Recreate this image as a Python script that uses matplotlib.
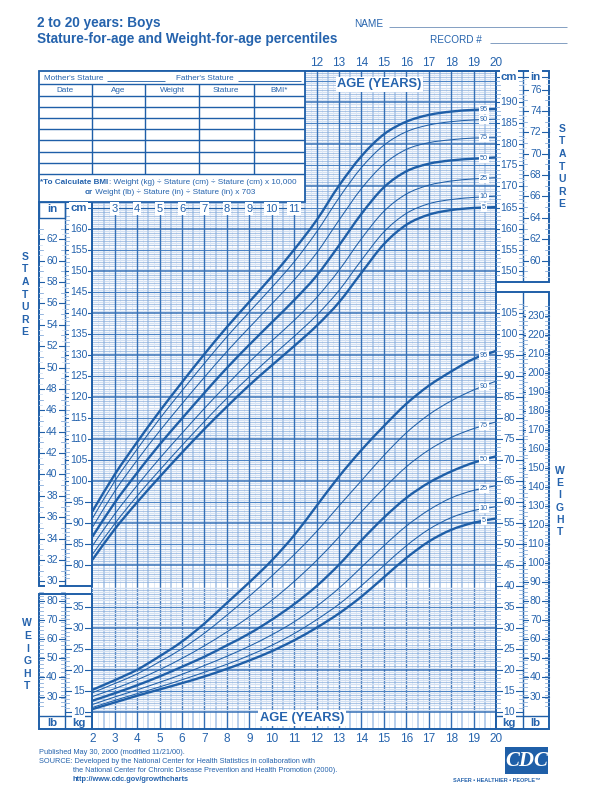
import numpy as np
import matplotlib
matplotlib.use("Agg")
import matplotlib.pyplot as plt
from matplotlib.patches import Rectangle, PathPatch
from matplotlib.path import Path
from matplotlib.transforms import blended_transform_factory as btf

plt.rcParams['font.family'] = ['Liberation Sans', 'DejaVu Sans']

# ---------------- data ----------------
ages = [2, 3, 4, 5, 6, 7, 8, 9, 10, 11, 12, 13, 14, 15, 16, 17, 18, 19, 20]
percentile_labels = ['5', '10', '25', '50', '75', '90', '95']

stature_p5  = [81.3, 88.6, 95.0, 101.0, 106.8, 112.4, 117.7, 122.8, 127.5, 132.1, 136.9, 142.5, 149.5, 156.3, 160.9, 163.3, 164.4, 164.9, 165.1]
stature_p10 = [82.6, 89.9, 96.5, 102.6, 108.5, 114.2, 119.7, 124.8, 129.7, 134.4, 139.4, 145.3, 152.5, 159.2, 163.6, 165.9, 166.9, 167.4, 167.7]
stature_p25 = [84.6, 92.2, 99.0, 105.4, 111.4, 117.3, 122.9, 128.3, 133.3, 138.2, 143.6, 150.1, 157.6, 164.1, 168.2, 170.3, 171.3, 171.8, 172.1]
stature_p50 = [86.8, 94.9, 102.0, 108.7, 114.9, 121.0, 126.9, 132.4, 137.7, 143.0, 148.8, 156.0, 163.5, 169.8, 173.6, 175.4, 176.2, 176.6, 176.9]
stature_p75 = [89.0, 97.6, 105.0, 111.9, 118.4, 124.7, 130.8, 136.5, 142.1, 147.8, 154.2, 162.0, 169.5, 175.3, 178.8, 180.4, 181.1, 181.5, 181.6]
stature_p90 = [91.1, 100.0, 107.6, 114.8, 121.5, 128.0, 134.3, 140.2, 146.0, 152.1, 159.2, 167.3, 174.5, 179.8, 183.0, 184.6, 185.4, 185.8, 186.0]
stature_p95 = [92.8, 101.6, 109.3, 116.6, 123.5, 130.2, 136.6, 142.6, 148.6, 155.0, 162.0, 170.2, 177.2, 182.4, 185.4, 187.0, 187.8, 188.2, 188.4]

weight_p5  = [10.6, 12.2, 13.8, 15.3, 16.8, 18.4, 20.2, 22.2, 24.4, 27.0, 30.0, 33.4, 37.4, 42.0, 46.6, 50.5, 53.3, 55.0, 56.0]
weight_p10 = [11.0, 12.7, 14.3, 15.9, 17.6, 19.4, 21.3, 23.4, 25.8, 28.6, 31.9, 35.6, 40.0, 44.8, 49.5, 53.4, 56.2, 57.9, 58.8]
weight_p25 = [11.7, 13.5, 15.2, 17.0, 18.9, 21.0, 23.2, 25.6, 28.3, 31.4, 35.1, 39.4, 44.4, 49.5, 54.2, 58.0, 60.9, 62.7, 63.8]
weight_p50 = [12.6, 14.4, 16.3, 18.4, 20.7, 23.1, 25.8, 28.6, 31.9, 35.6, 39.9, 45.0, 50.8, 56.2, 60.9, 64.5, 67.2, 69.3, 70.8]
weight_p75 = [13.6, 15.5, 17.6, 20.0, 22.7, 25.7, 29.0, 32.6, 36.5, 41.0, 46.0, 51.6, 57.6, 63.2, 68.3, 72.3, 75.3, 77.4, 79.0]
weight_p90 = [14.5, 16.7, 19.0, 21.9, 25.0, 28.7, 33.0, 37.5, 42.3, 47.4, 52.9, 59.0, 65.0, 71.0, 76.4, 80.7, 84.0, 86.6, 88.7]
weight_p95 = [15.2, 17.5, 20.0, 23.2, 26.7, 31.0, 35.9, 40.8, 46.0, 52.0, 59.0, 66.0, 72.3, 78.0, 83.3, 87.6, 91.0, 94.0, 95.9]

stature_series = [stature_p5, stature_p10, stature_p25, stature_p50, stature_p75, stature_p90, stature_p95]
weight_series = [weight_p5, weight_p10, weight_p25, weight_p50, weight_p75, weight_p90, weight_p95]

left_age_ticks = [3, 4, 5, 6, 7, 8, 9, 10, 11]
top_age_ticks = [12, 13, 14, 15, 16, 17, 18, 19, 20]
bottom_age_ticks = list(range(2, 21))
cm_ticks_left = [80, 85, 90, 95, 100, 105, 110, 115, 120, 125, 130, 135, 140, 145, 150, 155, 160]
in_ticks_left = [30, 32, 34, 36, 38, 40, 42, 44, 46, 48, 50, 52, 54, 56, 58, 60, 62]
cm_ticks_right = [150, 155, 160, 165, 170, 175, 180, 185, 190]
in_ticks_right = [60, 62, 64, 66, 68, 70, 72, 74, 76]
kg_ticks_left = [10, 15, 20, 25, 30, 35]
lb_ticks_left = [30, 40, 50, 60, 70, 80]
kg_ticks_right = [10, 15, 20, 25, 30, 35, 40, 45, 50, 55, 60, 65, 70, 75, 80, 85, 90, 95, 100, 105]
lb_ticks_right = [30, 40, 50, 60, 70, 80, 90, 100, 110, 120, 130, 140, 150, 160, 170, 180, 190, 200, 210, 220, 230]

# ---------------- styling / layout ----------------
BLUE = '#1f5fa8'
TXT = '#2563ad'
G_DARK = '#3570b6'
G_MID = '#8aaedb'
G_LIGHT = '#d2e0f2'
W, H = 600, 787
GX0, GX1, GY0, GY1 = 92.3, 496.0, 71.0, 729.0
CM_REF_Y, CM_SCALE = 102.3, 4.21      # y(px) of 190 cm, px per cm
KG_REF_Y, KG_SCALE = 711.7, 4.20      # y(px) of 10 kg, px per kg

fig = plt.figure(figsize=(6.0, 7.87), dpi=100)
fig.patch.set_facecolor('white')


def frac(x0, y0, x1, y1):
    return [x0 / W, 1 - y1 / H, (x1 - x0) / W, (y1 - y0) / H]


ax = fig.add_axes(frac(GX0, GY0, GX1, GY1))
ax.set_xlim(2, 20)
ax.set_ylim(190 - (GY1 - CM_REF_Y) / CM_SCALE, 190 + (CM_REF_Y - GY0) / CM_SCALE)
ax.set_xticks([]); ax.set_yticks([])
for s in ax.spines.values():
    s.set_color(BLUE); s.set_linewidth(1.4)
ax.set_zorder(1)

axw = ax.twinx()
axw.set_ylim(10 - (GY1 - KG_REF_Y) / KG_SCALE, 10 + (KG_REF_Y - GY0) / KG_SCALE)
axw.set_yticks([])
axw.patch.set_visible(False)
for s in axw.spines.values():
    s.set_visible(False)
axw.set_zorder(2)

fg = fig.add_axes([0, 0, 1, 1])
fg.set_xlim(0, W); fg.set_ylim(H, 0)
fg.axis('off')
fg.patch.set_visible(False)
fg.set_zorder(3)

trS = btf(fg.transData, ax.transData)     # x pixels, y cm
trW = btf(fg.transData, axw.transData)    # x pixels, y kg
trA = btf(ax.transData, fg.transData)     # x age, y pixels

# ---------------- grid ----------------
for c in range(76, 198):
    ax.axhline(c + 0.5, color=G_LIGHT, lw=1.0, zorder=0.5)
for k in range(10, 40):
    axw.axhline(k + 0.5, color=G_LIGHT, lw=1.0, zorder=0.5)
for a in np.arange(2.25, 20, 0.5):
    ax.axvline(a, color='#dbe6f5', lw=0.6, zorder=0.6)
for a in np.arange(2.5, 20, 1.0):
    ax.axvline(a, color='#b3cbea', lw=1.3, zorder=0.7)
for c in range(76, 198):
    if c % 10 == 0:
        ax.axhline(c, color=G_DARK, lw=1.1, zorder=0.9)
    elif c % 5 == 0:
        ax.axhline(c, color='#4d84c4', lw=0.8, zorder=0.9)
    else:
        ax.axhline(c, color=G_MID, lw=0.5, zorder=0.8)
for k in range(10, 40):
    if k % 10 == 0:
        axw.axhline(k, color=G_DARK, lw=1.1, zorder=0.9)
    elif k % 5 == 0:
        axw.axhline(k, color='#4d84c4', lw=0.8, zorder=0.9)
    else:
        axw.axhline(k, color=G_MID, lw=0.5, zorder=0.8)
for a in range(3, 20):
    ax.axvline(a, color=G_DARK, lw=1.0, zorder=1.0)


# ---------------- curves ----------------
def smooth_path(xs, ys):
    xs = np.asarray(xs, float); ys = np.asarray(ys, float)
    n = len(xs)
    m = np.empty(n)
    m[1:-1] = (ys[2:] - ys[:-2]) / (xs[2:] - xs[:-2])
    m[0] = (ys[1] - ys[0]) / (xs[1] - xs[0])
    m[-1] = (ys[-1] - ys[-2]) / (xs[-1] - xs[-2])
    verts = [(xs[0], ys[0])]
    codes = [Path.MOVETO]
    for i in range(n - 1):
        h = xs[i + 1] - xs[i]
        verts += [(xs[i] + h / 3, ys[i] + m[i] * h / 3),
                  (xs[i + 1] - h / 3, ys[i + 1] - m[i + 1] * h / 3),
                  (xs[i + 1], ys[i + 1])]
        codes += [Path.CURVE4] * 3
    return Path(verts, codes)


for target, series in ((ax, stature_series), (axw, weight_series)):
    for lab, vals in zip(percentile_labels, series):
        thick = lab in ('5', '50', '95')
        target.add_patch(PathPatch(smooth_path(ages, vals), fill=False,
                                   edgecolor=BLUE, lw=1.7 if thick else 0.75,
                                   zorder=5, capstyle='butt'))
        yv = np.interp(19.45, ages, vals)
        target.text(19.45, yv, lab, fontsize=5.2, color=TXT, ha='center', va='center',
                    zorder=6, bbox=dict(boxstyle='square,pad=0.12', fc='white', ec='none'))

# ---------------- helpers for boxes ----------------
def line(x0, y0, x1, y1, lw=1.0, color=BLUE, z=4):
    fg.plot([x0, x1], [y0, y1], color=color, lw=lw, zorder=z, solid_capstyle='butt')


def rect(x0, y0, x1, y1, lw=1.4, fc='none', z=4):
    fg.add_patch(Rectangle((x0, y0), x1 - x0, y1 - y0, fc=fc, ec=BLUE, lw=lw, zorder=z))


def col_labels(tr, x0, x1, vals, conv, fs=7.5):
    xc = (x0 + x1) / 2
    for v in vals:
        y = conv(v)
        fg.plot([x0, x1], [y, y], color=BLUE, lw=0.8, transform=tr, zorder=4)
        fg.text(xc, y, str(v), transform=tr, ha='center', va='center', fontsize=fs,
                color=TXT, zorder=6,
                bbox=dict(boxstyle='square,pad=0.08', fc='white', ec='none'))


def col_minor(tr, x0, x1, vals, conv, ln=4, left=True, right=True, color=G_MID):
    for v in vals:
        y = conv(v)
        if left:
            fg.plot([x0, x0 + ln], [y, y], color=color, lw=0.6, transform=tr, zorder=4)
        if right:
            fg.plot([x1 - ln, x1], [y, y], color=color, lw=0.6, transform=tr, zorder=4)


ident = lambda v: v
inch = lambda v: v * 2.54
pound = lambda v: v / 2.20462

# --- left stature block
rect(39, 202, 92.3, 586, fc='white', z=3)
line(65, 202, 65, 586, lw=1.0)
rect(39, 202, 65, 218, lw=1.0, z=4.5)
col_minor(trS, 39, 65, [v / 2 for v in range(60, 126)], inch, ln=3, color=G_LIGHT)
col_minor(trS, 39, 65, list(range(30, 64)), inch, ln=4)
col_minor(trS, 65, 92.3, list(range(77, 164)), ident, ln=4, right=False)
col_labels(trS, 39, 65, in_ticks_left, inch)
col_labels(trS, 65, 92.3, cm_ticks_left, ident)

# --- left weight block
rect(39, 594, 92.3, 729, fc='white', z=3)
line(65, 594, 65, 729, lw=1.0)
line(39, 716, 92.3, 716, lw=1.0)
col_minor(trW, 39, 65, list(range(25, 86, 2)), pound, ln=4)
col_minor(trW, 65, 92.3, list(range(10, 38)), ident, ln=4, right=False)
col_labels(trW, 39, 65, lb_ticks_left, pound)
col_labels(trW, 65, 92.3, kg_ticks_left, ident)

# --- right stature block
rect(496, 71, 549, 282, fc='white', z=3)
line(522.5, 71, 522.5, 282, lw=1.0)
col_minor(trS, 496, 522.5, list(range(149, 197)), ident, ln=4)
col_minor(trS, 522.5, 549, [v / 2 for v in range(117, 155)], inch, ln=3, color=G_LIGHT)
col_minor(trS, 522.5, 549, list(range(59, 77)), inch, ln=4)
col_labels(trS, 496, 522.5, cm_ticks_right, ident)
col_labels(trS, 522.5, 549, in_ticks_right, inch)

# --- right weight block
rect(496, 292, 549, 729, fc='white', z=3)
line(522.5, 292, 522.5, 729, lw=1.0)
line(496, 716, 549, 716, lw=1.0)
col_minor(trW, 496, 522.5, list(range(10, 108)), ident, ln=4)
col_minor(trW, 522.5, 549, list(range(25, 236, 2)), pound, ln=4)
col_labels(trW, 496, 522.5, kg_ticks_right, ident)
col_labels(trW, 522.5, 549, lb_ticks_right, pound)

# unit headers
def unit(x, y, s, fs=8.2, box=True):
    fg.text(x, y, s, ha='center', va='center', fontsize=fs, fontweight='bold', color=TXT,
            zorder=7, bbox=dict(boxstyle='square,pad=0.1', fc='white', ec='none') if box else None)

line(496, 77, 549, 77, lw=0.8)
unit(509, 76.5, 'cm'); unit(535.7, 76.5, 'in')
unit(52, 209.5, 'in', box=False)
unit(78.5, 208, 'cm')
unit(52, 722.5, 'lb', box=False); unit(78.5, 722.5, 'kg', box=False)
unit(509, 722.5, 'kg', box=False); unit(535.7, 722.5, 'lb', box=False)

# age label rows
line(65, 207.5, 305, 207.5, lw=0.8)
for a in left_age_ticks:
    fg.text(a, 208.5, str(a), transform=trA, ha='center', va='center', fontsize=8,
            color=TXT, zorder=7, bbox=dict(boxstyle='square,pad=0.1', fc='white', ec='none'))
for a in top_age_ticks:
    fg.text(a, 63.3, str(a), transform=trA, ha='center', va='center', fontsize=8.5, color=TXT)
for a in bottom_age_ticks:
    fg.text(a, 738.5, str(a), transform=trA, ha='center', va='center', fontsize=8.5, color=TXT)

fg.text(379.5, 84.5, 'AGE (YEARS)', ha='center', va='center', fontsize=9.3, fontweight='bold',
        color=TXT, zorder=7, bbox=dict(boxstyle='square,pad=0.12', fc='white', ec='none'))
fg.text(302, 718, 'AGE (YEARS)', ha='center', va='center', fontsize=9.3, fontweight='bold',
        color=TXT, zorder=7, bbox=dict(boxstyle='square,pad=0.12', fc='white', ec='none'))

# vertical words
def vword(x, y0, word, step=12.6):
    for i, ch in enumerate(word):
        fg.text(x, y0 + i * step, ch, ha='center', va='center', fontsize=7.5,
                fontweight='bold', color=TXT)

vword(25, 256.7, 'STATURE')
vword(562, 128.7, 'STATURE')
vword(27.3, 623.3, 'WEIGHT')
vword(560, 470.7, 'WEIGHT', step=12.3)

# ---------------- record table ----------------
rect(38.5, 71, 305, 202, fc='white', lw=1.3, z=3.5)
line(38.5, 84.3, 305, 84.3, lw=1.0, z=4.6)
for yy in (96, 107.3, 118.3, 129.3, 140.3, 151.7, 162.7, 173.7):
    line(38.5, yy, 305, yy, lw=1.0, z=4.6)
for xx in (91.5, 145.4, 198.5, 253.8):
    line(xx, 84.3, xx, 173.7, lw=1.0, z=4.6)
tfs = 5.9
fg.text(43.5, 78, "Mother's Stature", fontsize=tfs, color=TXT, va='center', zorder=6)
line(107, 80.8, 165, 80.8, lw=0.6, z=6)
fg.text(176, 78, "Father's Stature", fontsize=tfs, color=TXT, va='center', zorder=6)
line(238, 80.8, 301, 80.8, lw=0.6, z=6)
for xc, s in ((65, 'Date'), (118.5, 'Age'), (172, 'Weight'), (226, 'Stature'), (279.5, 'BMI*')):
    fg.text(xc, 90.3, s, fontsize=tfs, color=TXT, ha='center', va='center', zorder=6)

t1 = fg.text(40.5, 182.7, '*To Calculate BMI', fontsize=tfs, fontweight='bold', color=TXT,
             va='center', zorder=6)
fg.annotate(': Weight (kg) \u00f7 Stature (cm) \u00f7 Stature (cm) x 10,000', xy=(1, 0),
            xycoords=t1, va='bottom', ha='left', fontsize=tfs, color=TXT, zorder=6)
t2 = fg.text(85, 192.7, 'or', fontsize=tfs, fontweight='bold', color=TXT, va='center', zorder=6)
fg.annotate(' Weight (lb) \u00f7 Stature (in) \u00f7 Stature (in) x 703', xy=(1, 0),
            xycoords=t2, va='bottom', ha='left', fontsize=tfs, color=TXT, zorder=6)

# ---------------- titles ----------------
fg.text(37, 27, '2 to 20 years: Boys', fontsize=9.8, fontweight='bold', color=TXT, va='baseline')
fg.text(37, 42.5, 'Stature-for-age and Weight-for-age percentiles', fontsize=9.8,
        fontweight='bold', color=TXT, va='baseline')
fg.text(354, 27, 'NAME', fontsize=7.2, color=TXT, va='baseline')
line(389, 26.7, 567, 26.7, lw=0.6, color='#6f8fb8')
fg.text(430, 43.3, 'RECORD #', fontsize=7.2, color=TXT, va='baseline')
line(490, 43.3, 567, 43.3, lw=0.6, color='#6f8fb8')

# ---------------- footer ----------------
ffs = 5.3
fg.text(39, 752.7, 'Published May 30, 2000 (modified 11/21/00).', fontsize=ffs, color=TXT, va='center')
fg.text(39, 761.7, 'SOURCE: Developed by the National Center for Health Statistics in collaboration with',
        fontsize=ffs, color=TXT, va='center')
fg.text(72.7, 770.7, 'the National Center for Chronic Disease Prevention and Health Promotion (2000).',
        fontsize=ffs, color=TXT, va='center')
fg.text(72.7, 779.5, 'http://www.cdc.gov/growthcharts', fontsize=ffs, fontweight='bold',
        color=TXT, va='center')

fg.add_patch(Rectangle((505, 747), 43, 26.5, fc=BLUE, ec='none', zorder=4))
fg.text(526.5, 760.5, 'CDC', fontsize=15, fontweight='bold', fontstyle='italic', color='white',
        ha='center', va='center', family=['Liberation Serif', 'DejaVu Serif'], zorder=5)
fg.text(496.5, 780, 'SAFER \u2022 HEALTHIER \u2022 PEOPLE\u2122', fontsize=4.0, fontweight='bold',
        color=TXT, ha='center', va='center')

fig.savefig('out.png', dpi=100, facecolor='white')
